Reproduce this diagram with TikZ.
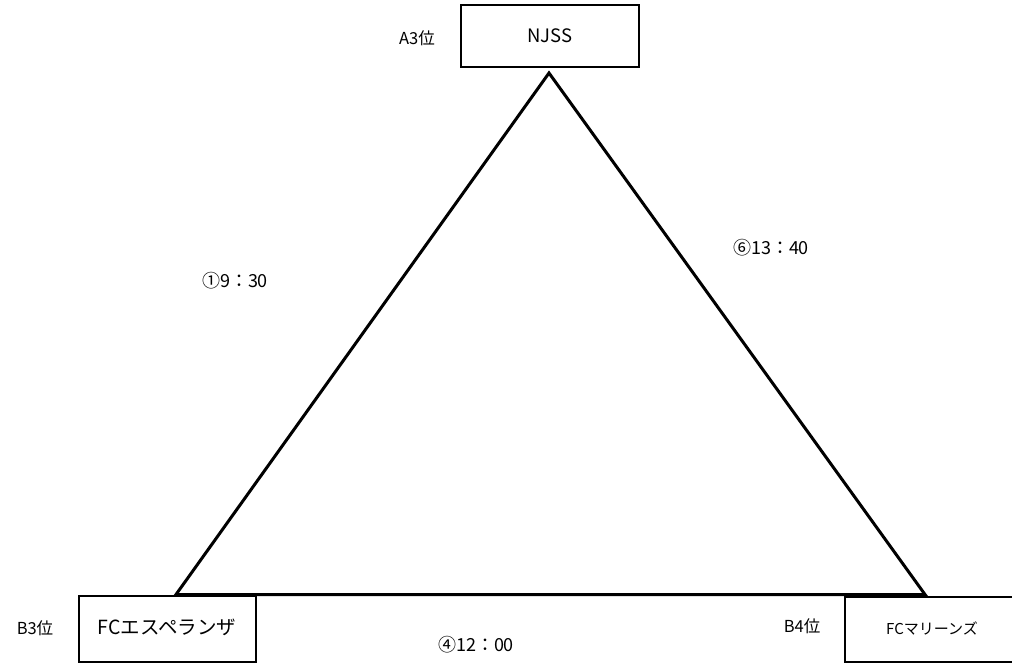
\documentclass[tikz,border=0pt]{standalone}
\usepackage{fontspec}
\setmainfont{Noto Sans CJK JP}
\begin{document}
\begin{tikzpicture}[x=1pt,y=-1pt,
  teambox/.style={draw,line width=1.5pt,inner sep=0pt},
  rank/.style={font=\fontsize{16.5}{18}\selectfont},
  timelbl/.style={font=\fontsize{18}{20}\selectfont},
  edge/.style={line width=3pt,line join=miter}]
\useasboundingbox (0,0) rectangle (1012,664);
\node[teambox,minimum width=178pt,minimum height=62pt,font=\fontsize{18.5}{20}\selectfont] (njss) at (550,36) {NJSS};
\node[teambox,minimum width=177pt,minimum height=66pt] (esp) at (167.5,629) {};
\node[font=\fontsize{19.5}{22}\selectfont] (espt) at (167,627) {FCエスペランザ};
\node[teambox,minimum width=172pt,minimum height=65pt] (mar) at (931,629.5) {};
\node[font=\fontsize{15}{17}\selectfont] (mart) at (932,628) {FCマリーンズ};
\node[rank] (a3) at (417,38) {A3位};
\node[rank] (b3) at (35,628) {B3位};
\node[rank] (b4) at (802,626) {B4位};
\coordinate (top) at (549,73);
\coordinate (bl) at (176,594.5);
\coordinate (br) at (925,594.5);
\draw[edge] (bl) -- (top) -- (br) -- cycle;
\node[timelbl] (t1) at (235,281) {①9：30};
\node[timelbl] (t6) at (771,248) {⑥13：40};
\node[timelbl] (t4) at (476,645) {④12：00};
\end{tikzpicture}
\end{document}
